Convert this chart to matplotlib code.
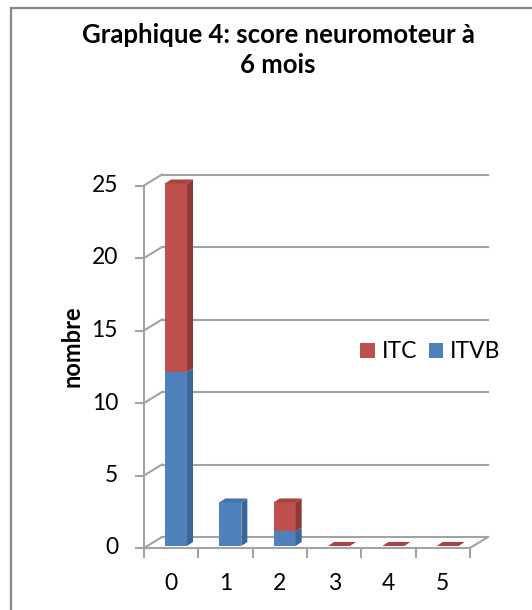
import matplotlib.pyplot as plt
from matplotlib.patches import Polygon, Patch
from matplotlib.lines import Line2D

plt.rcParams['font.family'] = ['Lato', 'DejaVu Sans']

categories = ['0', '1', '2', '3', '4', '5']
itvb = [12, 3, 1, 0, 0, 0]
itc = [13, 0, 2, 0, 0, 0]
y_ticks = [0, 5, 10, 15, 20, 25]
title = "Graphique 4: score neuromoteur à\n6 mois"
y_label = "nombre"

series = [("ITVB", itvb, ('#4F81BD', '#3A6699', '#4373AD')),
          ("ITC", itc, ('#C0504D', '#8E3A38', '#A8423F'))]

W, H = 532, 610
# pixel anchors of the front plane (category 0 left edge, value 0)
X0, Y0 = 144, 548
CW, VH = 54.33, 14.5
# depth of the walls and of the bars, in data units
DDX, DDY = 18 / CW, 11 / VH
BDX, BDY = 6 / CW, 4 / VH
BAR_X, BAR_W, BAR_Y = 0.387, 0.405, 0.14
GRID = '#A3A3A3'
FS = 16.5


def px(x, y):
    # figure pixels (from top) -> figure fraction
    return x / W, 1 - y / H


fig = plt.figure(figsize=(W / 100, H / 100), dpi=100)
ax = fig.add_axes([0, 0, 1, 1])
ax.set_xlim(-X0 / CW, (W - X0) / CW)
ax.set_ylim((Y0 - H) / VH, Y0 / VH)
ax.axis('off')

n = len(categories)
ymax = y_ticks[-1]

# back wall gridlines and left wall diagonals
for v in y_ticks:
    ax.plot([DDX, n + DDX], [v + DDY, v + DDY], color=GRID, lw=1.5, zorder=1)
    ax.plot([0, DDX], [v, v + DDY], color=GRID, lw=1.5, zorder=1)
    ax.plot([-8 / CW, 0], [v, v], color=GRID, lw=1.5, zorder=1)
# floor + front axes
ax.plot([0, n], [0, 0], color=GRID, lw=1.5, zorder=1)
ax.plot([n, n + DDX], [0, DDY], color=GRID, lw=1.5, zorder=1)
ax.plot([0, 0], [0, ymax], color=GRID, lw=1.5, zorder=1)
for i in range(n + 1):
    ax.plot([i, i], [0, -9 / VH], color=GRID, lw=1.5, zorder=1)

# stacked 3d-ish columns
for i in range(n):
    x0 = i + BAR_X
    x1 = x0 + BAR_W
    bottom = BAR_Y
    top_color = series[-1][2][2]
    for name, vals, (front, side, top) in series:
        v = vals[i]
        if v == 0:
            continue
        y0, y1 = bottom, bottom + v
        ax.add_patch(Polygon([(x0, y0), (x1, y0), (x1, y1), (x0, y1)],
                             closed=True, facecolor=front, edgecolor='none', zorder=3))
        ax.add_patch(Polygon([(x1, y0), (x1 + BDX, y0 + BDY), (x1 + BDX, y1 + BDY), (x1, y1)],
                             closed=True, facecolor=side, edgecolor='none', zorder=3))
        bottom = y1
        top_color = top
    ax.add_patch(Polygon([(x0, bottom), (x1, bottom), (x1 + BDX, bottom + BDY), (x0 + BDX, bottom + BDY)],
                         closed=True, facecolor=top_color, edgecolor='none', zorder=3))

# tick labels
for v in y_ticks:
    ax.text(-26 / CW, v, str(v), ha='right', va='center', fontsize=FS, color='black')
for i, c in enumerate(categories):
    ax.text(i + 0.5, -35 / VH, c, ha='center', va='center', fontsize=FS, color='black')

fig.text(*px(72, 346), y_label, rotation=90, ha='center', va='center',
         fontsize=17, fontweight='bold')
fig.text(*px(278, 50), title, ha='center', va='center', fontsize=18.5,
         fontweight='bold', linespacing=1.3)

handles = [Patch(facecolor=series[1][2][0]), Patch(facecolor=series[0][2][0])]
fig.legend(handles, ["ITC", "ITVB"], loc='center left', bbox_to_anchor=px(360, 352),
           ncol=2, frameon=False, fontsize=FS, handlelength=0.65, handleheight=0.65,
           handletextpad=0.3, columnspacing=0.5, borderpad=0, borderaxespad=0)

# chart frame (only left and top edges visible)
fig.add_artist(Line2D([11 / W, 11 / W], [0, 1 - 8 / H], color='#878787', lw=1.6))
fig.add_artist(Line2D([11 / W, 1], [1 - 8 / H, 1 - 8 / H], color='#878787', lw=1.6))

fig.savefig('out.png', dpi=100)
plt.close(fig)
